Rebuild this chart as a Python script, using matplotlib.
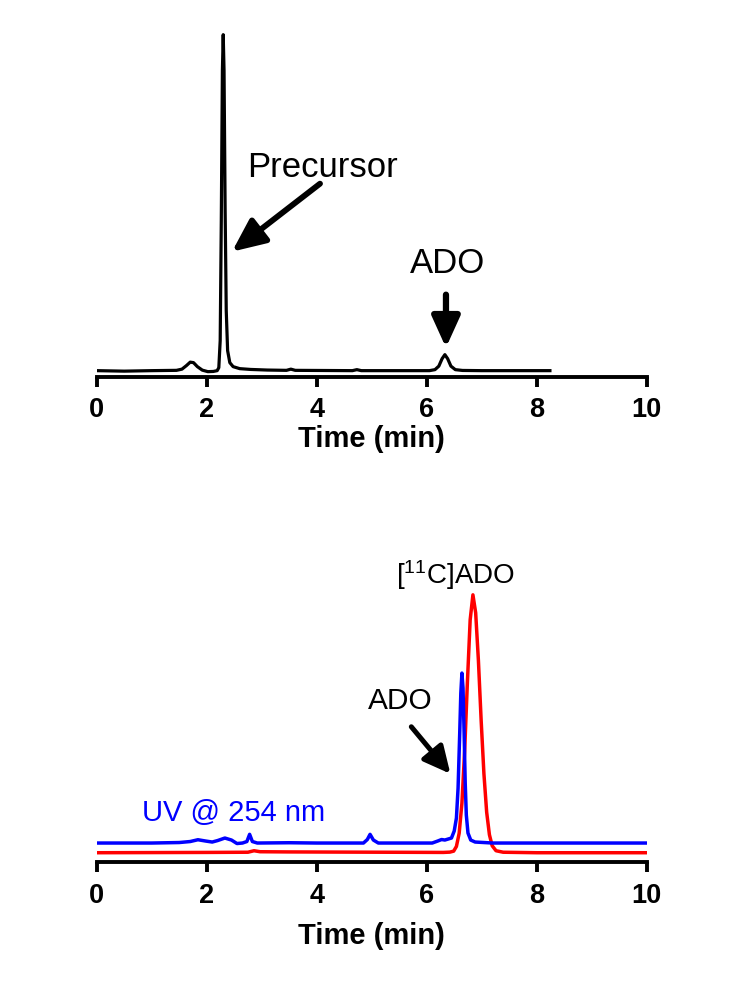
import matplotlib
matplotlib.use("Agg")
import matplotlib.pyplot as plt

plt.rcParams['font.family'] = ['Liberation Sans', 'DejaVu Sans']
plt.rcParams['mathtext.fontset'] = 'custom'
plt.rcParams['mathtext.rm'] = 'Liberation Sans'
plt.rcParams['mathtext.it'] = 'Liberation Sans:italic'
plt.rcParams['mathtext.bf'] = 'Liberation Sans:bold'

# top chromatogram (crude reaction), signal above baseline
crude_time = [0.0, 0.5, 1.0, 1.45, 1.55, 1.63, 1.70, 1.76, 1.83, 1.92, 2.02, 2.12,
              2.19, 2.22, 2.245, 2.265, 2.285, 2.30, 2.315, 2.335, 2.355, 2.38, 2.42,
              2.48, 2.6, 2.8, 3.1, 3.45, 3.53, 3.61, 4.65, 4.73, 4.81, 6.05, 6.15,
              6.22, 6.28, 6.33, 6.38, 6.44, 6.52, 6.65, 7.0, 8.24]
crude_signal = [0, -0.5, 0, 0.3, 1.5, 5, 8.5, 8, 4, 0.5, -1, -0.8,
                0, 3, 30, 150, 300, 336, 300, 160, 60, 20, 8,
                4, 2, 1.2, 0.6, 0.3, 1.5, 0.3, 0, 1, 0, 0, 1,
                4.5, 12, 16, 12, 4.5, 1, 0.2, 0, 0]

# bottom panel: UV trace at 254 nm
uv_time = [0.0, 1.0, 1.5, 1.7, 1.84, 1.98, 2.1, 2.2, 2.33, 2.45, 2.55, 2.65,
           2.73, 2.78, 2.83, 2.92, 3.5, 4.0, 4.85, 4.92, 4.97, 5.03, 5.12, 5.5,
           6.1, 6.2, 6.27, 6.33, 6.39, 6.45, 6.50, 6.54, 6.57, 6.60, 6.62, 6.64,
           6.66, 6.68, 6.70, 6.72, 6.75, 6.80, 6.88, 7.2, 10.0]
uv_signal = [0, 0, 0.5, 1.5, 3.3, 2, 1, 2.5, 5, 3, -0.5, 0,
             1.5, 8.7, 1.5, 0, 0.3, 0, 0, 3.5, 8.7, 3, 0, 0,
             0, 2, 3.5, 3, 4, 5, 12, 25, 55, 110, 150, 170,
             155, 110, 60, 28, 10, 3, 1, 0, 0]

# bottom panel: radio trace
radio_time = [0.0, 2.0, 2.75, 2.86, 2.97, 3.5, 6.3, 6.42, 6.49, 6.54, 6.59, 6.64,
              6.69, 6.74, 6.79, 6.84, 6.89, 6.94, 6.99, 7.04, 7.09, 7.14, 7.19,
              7.26, 7.39, 8.0, 10.0]
radio_signal = [0, 0.3, 0.5, 2, 1, 0.8, 0.3, 0.6, 1.6, 6.3, 19.5, 49.5,
                102, 171, 233, 258, 240, 192, 132, 79, 40.5, 18, 7,
                2, 0.5, 0, 0]

x_ticks = [0, 2, 4, 6, 8, 10]


def style_axis(ax, labelpad):
    for side in ['left', 'top', 'right']:
        ax.spines[side].set_visible(False)
    ax.spines['bottom'].set_linewidth(2.8)
    ax.set_yticks([])
    ax.set_xlim(0, 10)
    ax.set_xticks(x_ticks)
    ax.tick_params(axis='x', direction='out', length=7, width=2.8, labelsize=19.5, pad=8)
    for lab in ax.get_xticklabels():
        lab.set_fontweight('bold')
    ax.set_xlabel('Time (min)', fontsize=21, fontweight='bold', labelpad=labelpad)
    ax.patch.set_alpha(0)


def arrow(ax, tail, tip, hl, hw, lw):
    ax.annotate('', xy=tip, xytext=tail,
                arrowprops=dict(arrowstyle='-|>,head_length=%s,head_width=%s' % (hl, hw),
                                mutation_scale=25, lw=lw, color='black',
                                shrinkA=0, shrinkB=0))


fig = plt.figure(figsize=(7.48, 9.93), dpi=100)

# top panel
ax1 = fig.add_axes([0.1293, 0.6207, 0.7353, 0.3491])
ax1.plot(crude_time, crude_signal, color='black', lw=2.3)
ax1.set_ylim(-6, 340.7)
style_axis(ax1, 1)
ax1.text(4.1, 203, 'Precursor', fontsize=25, ha='center', va='center')
arrow(ax1, (4.06, 187), (2.46, 119), 0.8, 0.36, 4.2)
ax1.text(6.37, 107, 'ADO', fontsize=25, ha='center', va='center')
arrow(ax1, (6.35, 76), (6.35, 23), 0.75, 0.34, 4.5)

# bottom panel
ax2 = fig.add_axes([0.1293, 0.1322, 0.7353, 0.3138])
ax2.plot(radio_time, radio_signal, color='#ff0000', lw=2.5)
ax2.plot(uv_time, [v + 9.7 for v in uv_signal], color='#0000ff', lw=2.5)
ax2.set_ylim(-9, 302.7)
style_axis(ax2, 10)
ax2.text(6.52, 278, r'[$^{11}$C]ADO', fontsize=20, ha='center', va='center')
ax2.text(5.52, 152, 'ADO', fontsize=21.5, ha='center', va='center')
arrow(ax2, (5.72, 126), (6.43, 79), 0.65, 0.32, 3.6)
ax2.text(2.48, 40, 'UV @ 254 nm', fontsize=21, color='#0000ff', ha='center', va='center')

fig.savefig('out.png', dpi=100)
